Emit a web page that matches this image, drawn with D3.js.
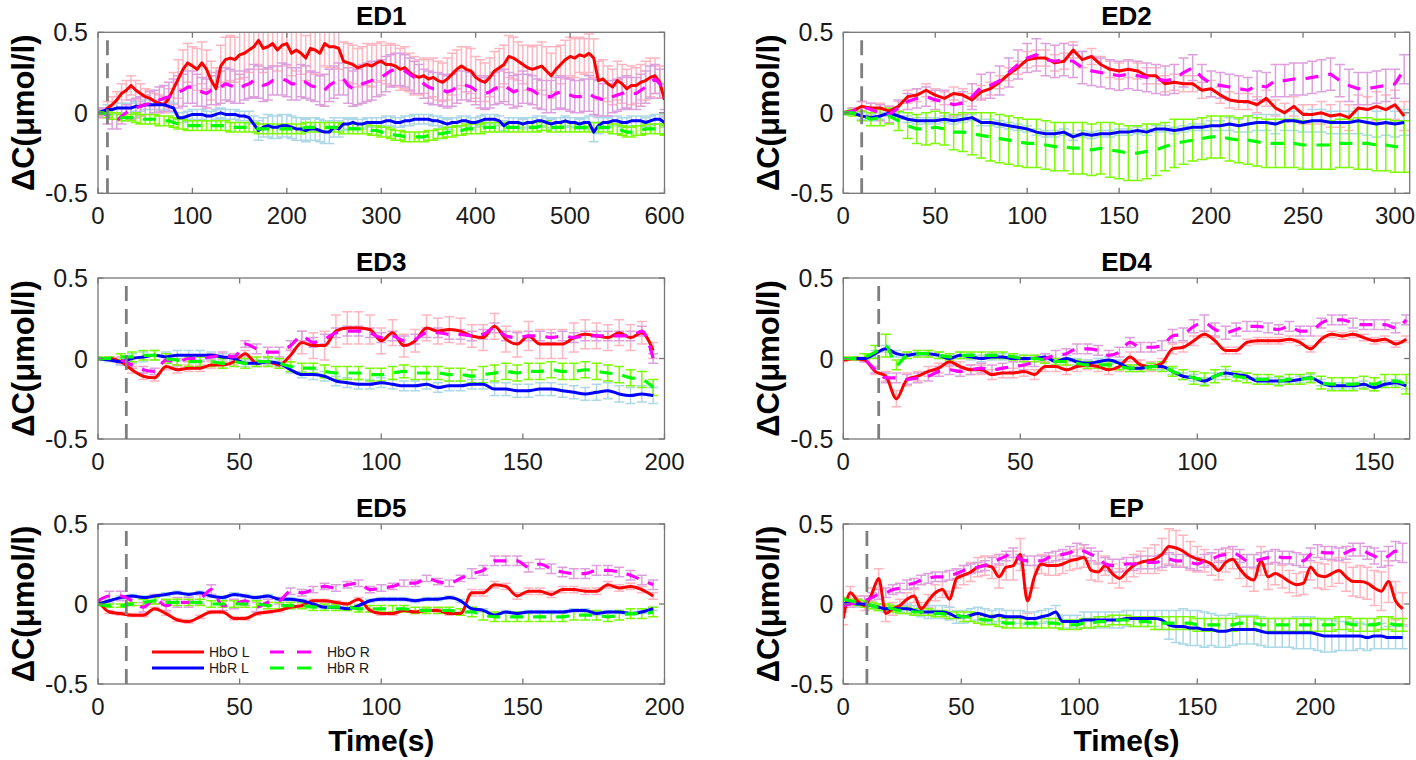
<!DOCTYPE html>
<html><head><meta charset="utf-8">
<script src="https://cdn.jsdelivr.net/npm/d3@7"></script>
<style>
body{margin:0;background:#fff}
svg{display:block}
text{font-family:"Liberation Sans",Arial,Helvetica,sans-serif}
</style>
</head><body>
<svg id="chart" width="1416" height="760"></svg>
<script>
// ---------------- DATA ----------------
const seriesNames = ["HbO L", "HbR L", "HbO R", "HbR R"];
const yTicks = [-0.5, 0, 0.5];
const onsetTime = 10;

// ED1 (t = 0..600, every 5 s)
const ed1Time = d3.range(0, 601, 5);
const ed1Ticks = [0, 100, 200, 300, 400, 500, 600];
const ed1HbOL = [0.00,0.00,0.03,0.05,0.08,0.12,0.14,0.17,0.14,0.12, 0.10,0.09,0.07,0.06,0.05,0.09,0.15,0.21,0.27,0.31,
 0.29,0.27,0.31,0.27,0.20,0.15,0.29,0.33,0.34,0.33, 0.36,0.37,0.39,0.41,0.45,0.40,0.41,0.43,0.39,0.42,
 0.43,0.37,0.39,0.37,0.34,0.40,0.39,0.37,0.43,0.41, 0.41,0.40,0.32,0.31,0.30,0.28,0.29,0.30,0.29,0.31,
 0.32,0.30,0.30,0.29,0.27,0.28,0.25,0.23,0.22,0.23, 0.21,0.22,0.20,0.19,0.21,0.24,0.27,0.29,0.27,0.26,
 0.22,0.20,0.19,0.22,0.26,0.28,0.30,0.35,0.34,0.32, 0.30,0.28,0.27,0.28,0.29,0.26,0.23,0.27,0.30,0.33,
 0.35,0.34,0.36,0.35,0.37,0.34,0.20,0.21,0.18,0.16, 0.20,0.18,0.15,0.17,0.17,0.19,0.20,0.22,0.23,0.19, 0.08];
const ed1HbRL = [0.00,0.01,0.02,0.02,0.03,0.03,0.03,0.03,0.04,0.04, 0.05,0.05,0.05,0.05,0.05,0.04,0.03,-0.03,-0.03,-0.02,
 -0.01,-0.01,-0.01,-0.02,-0.02,-0.01,0.00,-0.01,-0.01,-0.01, -0.02,-0.02,-0.03,-0.07,-0.11,-0.09,-0.08,-0.09,-0.09,-0.08,
 -0.08,-0.09,-0.10,-0.10,-0.11,-0.10,-0.10,-0.11,-0.12,-0.12, -0.09,-0.10,-0.07,-0.07,-0.06,-0.07,-0.07,-0.06,-0.06,-0.06,
 -0.06,-0.05,-0.05,-0.06,-0.06,-0.05,-0.05,-0.04,-0.04,-0.04, -0.04,-0.05,-0.05,-0.06,-0.07,-0.06,-0.06,-0.05,-0.05,-0.06,
 -0.06,-0.05,-0.04,-0.04,-0.04,-0.05,-0.08,-0.06,-0.06,-0.06, -0.07,-0.06,-0.06,-0.05,-0.05,-0.06,-0.07,-0.06,-0.06,-0.05,
 -0.06,-0.06,-0.07,-0.06,-0.06,-0.12,-0.08,-0.06,-0.06,-0.05, -0.05,-0.06,-0.06,-0.05,-0.05,-0.05,-0.06,-0.05,-0.04,-0.04, -0.06];
const ed1HbOR = [0.00,0.00,-0.02,-0.05,-0.05,-0.02,0.00,0.02,0.03,0.04, 0.05,0.06,0.07,0.08,0.09,0.10,0.12,0.13,0.14,0.16,
 0.16,0.14,0.13,0.12,0.14,0.15,0.16,0.18,0.17,0.16, 0.15,0.17,0.18,0.20,0.19,0.17,0.18,0.20,0.20,0.21,
 0.20,0.18,0.18,0.20,0.19,0.17,0.16,0.14,0.14,0.17, 0.19,0.21,0.21,0.17,0.15,0.16,0.18,0.19,0.20,0.21,
 0.22,0.24,0.26,0.27,0.27,0.26,0.24,0.22,0.21,0.18, 0.16,0.15,0.15,0.14,0.13,0.14,0.16,0.17,0.17,0.16,
 0.14,0.13,0.12,0.13,0.15,0.16,0.17,0.15,0.13,0.14, 0.16,0.15,0.14,0.12,0.11,0.10,0.10,0.12,0.13,0.12,
 0.11,0.10,0.10,0.11,0.12,0.10,0.09,0.08,0.08,0.10, 0.11,0.12,0.13,0.12,0.12,0.14,0.16,0.19,0.21,0.18, 0.10];
const ed1HbRR = [0.00,0.00,-0.01,-0.02,-0.02,-0.03,-0.03,-0.03,-0.03,-0.04, -0.04,-0.04,-0.04,-0.05,-0.05,-0.05,-0.06,-0.07,-0.07,-0.08,
 -0.08,-0.08,-0.08,-0.08,-0.08,-0.08,-0.08,-0.08,-0.09,-0.09, -0.09,-0.09,-0.09,-0.09,-0.10,-0.10,-0.10,-0.10,-0.10,-0.10,
 -0.10,-0.10,-0.10,-0.10,-0.09,-0.09,-0.09,-0.09,-0.09,-0.09, -0.09,-0.09,-0.10,-0.10,-0.10,-0.10,-0.10,-0.10,-0.11,-0.11,
 -0.12,-0.12,-0.13,-0.14,-0.14,-0.15,-0.15,-0.15,-0.15,-0.15, -0.14,-0.14,-0.13,-0.13,-0.12,-0.12,-0.11,-0.11,-0.10,-0.10,
 -0.10,-0.10,-0.09,-0.09,-0.09,-0.09,-0.09,-0.09,-0.09,-0.09, -0.09,-0.09,-0.09,-0.09,-0.08,-0.08,-0.09,-0.09,-0.09,-0.09,
 -0.09,-0.09,-0.09,-0.09,-0.09,-0.09,-0.09,-0.09,-0.09,-0.10, -0.10,-0.11,-0.12,-0.12,-0.11,-0.11,-0.10,-0.10,-0.10,-0.10, -0.11];
const ed1ErrHbOL = [0.02,0.03,0.04,0.05,0.05,0.06,0.06,0.06,0.06,0.06, 0.05,0.05,0.05,0.05,0.05,0.06,0.10,0.12,0.12,0.12,
 0.12,0.13,0.13,0.12,0.12,0.13,0.13,0.14,0.14,0.14, 0.15,0.15,0.14,0.14,0.15,0.15,0.14,0.14,0.13,0.13,
 0.14,0.14,0.13,0.13,0.14,0.15,0.15,0.14,0.14,0.13, 0.13,0.13,0.12,0.12,0.12,0.12,0.12,0.13,0.13,0.12,
 0.12,0.12,0.13,0.13,0.13,0.13,0.12,0.12,0.11,0.11, 0.12,0.12,0.12,0.12,0.13,0.13,0.12,0.12,0.14,0.14,
 0.13,0.13,0.12,0.12,0.12,0.12,0.12,0.13,0.13,0.12, 0.12,0.14,0.14,0.14,0.15,0.15,0.14,0.14,0.12,0.12,
 0.12,0.12,0.11,0.11,0.12,0.12,0.12,0.12,0.11,0.11, 0.12,0.12,0.12,0.12,0.11,0.11,0.12,0.12,0.11,0.10, 0.10];
const ed1ErrHbRL = [0.02,0.02,0.03,0.03,0.03,0.03,0.03,0.03,0.03,0.03, 0.03,0.03,0.03,0.03,0.03,0.03,0.03,0.03,0.03,0.03,
 0.03,0.03,0.03,0.03,0.03,0.03,0.03,0.03,0.03,0.03, 0.03,0.03,0.04,0.05,0.06,0.06,0.07,0.07,0.07,0.07,
 0.07,0.07,0.07,0.07,0.07,0.07,0.07,0.07,0.07,0.07, 0.06,0.05,0.04,0.03,0.03,0.03,0.03,0.03,0.03,0.03,
 0.03,0.03,0.03,0.03,0.03,0.03,0.03,0.03,0.03,0.03, 0.03,0.03,0.03,0.03,0.03,0.03,0.03,0.03,0.03,0.03,
 0.03,0.03,0.03,0.03,0.03,0.03,0.03,0.03,0.03,0.03, 0.03,0.03,0.03,0.03,0.03,0.03,0.03,0.03,0.03,0.03,
 0.03,0.03,0.03,0.03,0.04,0.06,0.05,0.04,0.03,0.03, 0.03,0.03,0.03,0.03,0.03,0.03,0.03,0.03,0.03,0.03, 0.03];
const ed1ErrHbOR = [0.02,0.03,0.05,0.05,0.05,0.05,0.05,0.06,0.06,0.06, 0.06,0.07,0.07,0.08,0.08,0.09,0.09,0.10,0.10,0.10,
 0.10,0.10,0.09,0.09,0.09,0.10,0.10,0.10,0.10,0.10, 0.09,0.09,0.09,0.10,0.10,0.10,0.10,0.09,0.09,0.10,
 0.10,0.10,0.10,0.10,0.10,0.09,0.09,0.09,0.10,0.10, 0.10,0.10,0.10,0.11,0.11,0.11,0.12,0.12,0.12,0.11,
 0.11,0.11,0.10,0.10,0.10,0.10,0.10,0.10,0.09,0.09, 0.10,0.10,0.10,0.10,0.10,0.10,0.10,0.09,0.09,0.09,
 0.09,0.10,0.10,0.10,0.10,0.10,0.10,0.10,0.10,0.10, 0.10,0.09,0.09,0.09,0.09,0.10,0.10,0.10,0.10,0.10,
 0.10,0.10,0.10,0.10,0.11,0.11,0.11,0.10,0.10,0.10, 0.10,0.10,0.10,0.10,0.10,0.10,0.10,0.10,0.09,0.09, 0.08];
const ed1ErrHbRR = [0.01,0.01,0.02,0.02,0.02,0.02,0.02,0.02,0.03,0.03, 0.03,0.03,0.03,0.03,0.03,0.03,0.03,0.03,0.03,0.03,
 0.03,0.03,0.03,0.03,0.03,0.03,0.03,0.03,0.03,0.03, 0.03,0.03,0.03,0.03,0.03,0.03,0.03,0.03,0.03,0.03,
 0.03,0.03,0.03,0.03,0.03,0.03,0.03,0.03,0.03,0.03, 0.03,0.03,0.03,0.03,0.03,0.03,0.03,0.03,0.03,0.03,
 0.03,0.03,0.03,0.03,0.03,0.03,0.03,0.03,0.03,0.03, 0.03,0.03,0.03,0.03,0.03,0.03,0.03,0.03,0.03,0.03,
 0.03,0.03,0.03,0.03,0.03,0.03,0.03,0.03,0.03,0.03, 0.03,0.03,0.03,0.03,0.03,0.03,0.03,0.03,0.03,0.03,
 0.03,0.03,0.03,0.03,0.03,0.03,0.03,0.03,0.03,0.03, 0.03,0.03,0.03,0.03,0.03,0.03,0.03,0.03,0.03,0.03, 0.03];

// ED2 (t = 0..305, every 5 s)
const ed2Time = d3.range(0, 306, 5);
const ed2Ticks = [0, 50, 100, 150, 200, 250, 300];
const ed2HbOL = [0.00,0.01,0.04,0.03,0.03,0.01,0.04,0.10,0.11,0.14, 0.11,0.09,0.12,0.11,0.08,0.13,0.15,0.19,0.24,0.28, 0.33,0.34,0.34,0.31,0.32,0.39,0.33,0.35,0.30,0.27, 0.26,0.27,0.26,0.23,0.23,0.18,0.19,0.18,0.18,0.14, 0.15,0.11,0.08,0.07,0.07,0.05,0.09,0.03,0.00,0.04, -0.01,-0.01,0.00,-0.02,-0.01,-0.03,0.03,0.02,0.04,0.02, 0.05,-0.02];
const ed2HbRL = [0.00,0.00,-0.02,-0.03,-0.02,0.00,-0.02,-0.04,-0.05,-0.05, -0.05,-0.04,-0.05,-0.04,-0.03,-0.06,-0.06,-0.07,-0.08,-0.09, -0.10,-0.12,-0.13,-0.13,-0.12,-0.15,-0.13,-0.14,-0.13,-0.13, -0.12,-0.12,-0.11,-0.12,-0.10,-0.10,-0.11,-0.10,-0.09,-0.09, -0.08,-0.08,-0.07,-0.08,-0.07,-0.06,-0.06,-0.07,-0.05,-0.05, -0.06,-0.05,-0.05,-0.06,-0.06,-0.06,-0.05,-0.06,-0.07,-0.06, -0.07,-0.06];
const ed2HbOR = [0.00,0.01,0.04,0.02,0.00,-0.01,0.03,0.07,0.09,0.10, 0.08,0.07,0.05,0.06,0.10,0.16,0.17,0.20,0.25,0.30, 0.34,0.36,0.33,0.32,0.33,0.32,0.28,0.26,0.25,0.24, 0.23,0.24,0.23,0.22,0.21,0.20,0.21,0.25,0.28,0.22, 0.18,0.17,0.16,0.15,0.14,0.17,0.16,0.20,0.20,0.21, 0.21,0.22,0.23,0.24,0.20,0.17,0.15,0.15,0.16,0.17, 0.18,0.27];
const ed2HbRR = [0.00,0.00,-0.02,-0.04,-0.03,-0.02,-0.05,-0.08,-0.10,-0.10, -0.09,-0.10,-0.12,-0.12,-0.13,-0.14,-0.15,-0.16,-0.17,-0.18, -0.19,-0.19,-0.20,-0.21,-0.21,-0.22,-0.22,-0.23,-0.22,-0.23, -0.24,-0.25,-0.25,-0.24,-0.23,-0.21,-0.19,-0.18,-0.17,-0.16, -0.15,-0.15,-0.16,-0.17,-0.17,-0.18,-0.19,-0.19,-0.19,-0.19, -0.20,-0.20,-0.20,-0.20,-0.19,-0.19,-0.19,-0.19,-0.20,-0.20, -0.21,-0.21];
const ed2ErrHbOL = [0.01,0.02,0.03,0.03,0.03,0.03,0.03,0.04,0.04,0.04, 0.04,0.04,0.04,0.04,0.04,0.04,0.04,0.04,0.04,0.04, 0.05,0.05,0.05,0.05,0.05,0.05,0.05,0.05,0.05,0.05, 0.05,0.05,0.05,0.05,0.05,0.05,0.05,0.05,0.05,0.05, 0.05,0.05,0.05,0.05,0.05,0.05,0.05,0.05,0.06,0.06, 0.06,0.06,0.07,0.07,0.08,0.08,0.08,0.08,0.09,0.09, 0.09,0.09];
const ed2ErrHbRL = [0.01,0.01,0.02,0.02,0.02,0.02,0.02,0.02,0.02,0.02, 0.02,0.02,0.02,0.02,0.02,0.02,0.02,0.02,0.02,0.02, 0.02,0.02,0.02,0.02,0.02,0.02,0.02,0.02,0.02,0.02, 0.02,0.02,0.02,0.02,0.02,0.02,0.02,0.02,0.02,0.02, 0.03,0.03,0.04,0.04,0.05,0.05,0.05,0.06,0.06,0.06, 0.06,0.07,0.07,0.07,0.07,0.07,0.08,0.08,0.08,0.08, 0.08,0.08];
const ed2ErrHbOR = [0.01,0.02,0.03,0.04,0.05,0.05,0.05,0.05,0.06,0.06, 0.06,0.07,0.07,0.07,0.08,0.08,0.08,0.09,0.09,0.09, 0.09,0.10,0.10,0.10,0.10,0.10,0.10,0.09,0.09,0.09, 0.09,0.09,0.09,0.09,0.09,0.09,0.09,0.09,0.08,0.08, 0.08,0.08,0.08,0.08,0.08,0.09,0.09,0.10,0.10,0.10, 0.10,0.10,0.10,0.10,0.10,0.10,0.10,0.10,0.10,0.10, 0.09,0.09];
const ed2ErrHbRR = [0.01,0.02,0.03,0.04,0.05,0.05,0.06,0.08,0.09,0.10, 0.10,0.10,0.11,0.12,0.13,0.14,0.15,0.15,0.15,0.15, 0.15,0.15,0.15,0.15,0.15,0.16,0.16,0.16,0.16,0.17, 0.17,0.17,0.17,0.17,0.16,0.15,0.15,0.14,0.13,0.13, 0.13,0.13,0.14,0.14,0.15,0.15,0.15,0.15,0.15,0.15, 0.15,0.15,0.15,0.15,0.15,0.15,0.16,0.16,0.16,0.16, 0.16,0.16];

// ED3 (t = 0..196, every 4 s)
const ed3Time = d3.range(0, 197, 4);
const ed3Ticks = [0, 50, 100, 150, 200];
const ed3HbOL = [0.00,0.00,-0.02,-0.07,-0.11,-0.12,-0.05,-0.07,-0.06,-0.06, -0.04,-0.04,-0.02,0.03,-0.03,-0.02,-0.04,0.02,0.10,0.08, 0.08,0.17,0.19,0.19,0.18,0.11,0.16,0.08,0.11,0.19, 0.17,0.18,0.17,0.14,0.13,0.20,0.12,0.09,0.14,0.09, 0.09,0.09,0.13,0.15,0.14,0.13,0.16,0.13,0.16,0.05];
const ed3HbRL = [0.00,-0.01,-0.02,0.00,0.01,0.02,0.01,0.02,0.02,0.02, 0.02,0.01,0.00,-0.03,-0.03,-0.02,-0.03,-0.07,-0.10,-0.10, -0.11,-0.14,-0.15,-0.16,-0.16,-0.15,-0.16,-0.17,-0.17,-0.16, -0.18,-0.17,-0.17,-0.16,-0.16,-0.19,-0.19,-0.20,-0.20,-0.19, -0.19,-0.20,-0.21,-0.22,-0.21,-0.20,-0.22,-0.23,-0.22,-0.23];
const ed3HbOR = [0.00,0.00,-0.01,-0.04,-0.07,-0.08,-0.01,-0.02,0.00,0.00, 0.01,0.02,0.01,0.09,0.06,0.04,0.04,0.08,0.14,0.10, 0.12,0.16,0.17,0.17,0.16,0.13,0.14,0.11,0.12,0.16, 0.16,0.15,0.15,0.14,0.15,0.19,0.14,0.13,0.14,0.14, 0.13,0.14,0.13,0.14,0.14,0.14,0.14,0.14,0.17,0.00];
const ed3HbRR = [0.00,0.00,0.01,0.01,0.02,0.02,0.00,-0.01,-0.02,-0.02, -0.02,-0.03,-0.02,-0.03,-0.02,-0.02,-0.03,-0.05,-0.06,-0.06, -0.08,-0.09,-0.09,-0.09,-0.10,-0.10,-0.09,-0.08,-0.09,-0.09, -0.09,-0.10,-0.10,-0.11,-0.10,-0.09,-0.08,-0.09,-0.08,-0.08, -0.07,-0.08,-0.08,-0.07,-0.08,-0.09,-0.10,-0.12,-0.13,-0.18];
const ed3ErrHbOL = [0.01,0.01,0.02,0.02,0.02,0.02,0.02,0.02,0.02,0.02, 0.02,0.02,0.02,0.02,0.02,0.02,0.02,0.04,0.07,0.08, 0.09,0.10,0.10,0.10,0.09,0.08,0.08,0.07,0.07,0.08, 0.08,0.08,0.08,0.07,0.08,0.08,0.08,0.08,0.09,0.09, 0.09,0.09,0.09,0.09,0.08,0.08,0.08,0.08,0.07,0.05];
const ed3ErrHbRL = [0.01,0.01,0.02,0.03,0.03,0.03,0.03,0.03,0.03,0.03, 0.02,0.02,0.02,0.02,0.02,0.02,0.02,0.02,0.02,0.03, 0.03,0.03,0.03,0.03,0.03,0.03,0.03,0.03,0.03,0.03, 0.03,0.03,0.03,0.03,0.03,0.04,0.04,0.04,0.04,0.04, 0.04,0.04,0.04,0.04,0.05,0.05,0.05,0.05,0.05,0.05];
const ed3ErrHbOR = [0.01,0.01,0.02,0.02,0.02,0.02,0.02,0.02,0.02,0.02, 0.02,0.02,0.02,0.02,0.03,0.03,0.03,0.03,0.03,0.03, 0.03,0.03,0.03,0.03,0.03,0.03,0.03,0.03,0.03,0.03, 0.03,0.03,0.03,0.03,0.03,0.03,0.03,0.03,0.03,0.03, 0.03,0.03,0.03,0.03,0.03,0.03,0.03,0.03,0.03,0.03];
const ed3ErrHbRR = [0.01,0.01,0.02,0.03,0.03,0.03,0.03,0.03,0.03,0.03, 0.03,0.03,0.03,0.03,0.03,0.03,0.03,0.03,0.03,0.03, 0.04,0.04,0.04,0.04,0.04,0.04,0.04,0.04,0.04,0.04, 0.04,0.04,0.04,0.04,0.05,0.05,0.05,0.05,0.05,0.05, 0.05,0.05,0.05,0.05,0.05,0.05,0.05,0.05,0.05,0.05];

// ED4 (t = 0..159, every 3 s)
const ed4Time = d3.range(0, 160, 3);
const ed4Ticks = [0, 50, 100, 150];
const ed4HbOL = [-0.01,0.00,-0.01,-0.08,-0.11,-0.25,-0.13,-0.11,-0.08,-0.06, -0.02,-0.05,-0.07,-0.07,-0.10,-0.09,-0.09,-0.08,-0.10,-0.05, -0.05,-0.07,-0.05,-0.04,-0.05,-0.07,-0.05,0.01,-0.04,-0.05, -0.03,0.06,0.07,0.11,0.15,0.11,0.05,0.05,0.10,0.11, 0.11,0.11,0.12,0.10,0.06,0.12,0.15,0.14,0.15,0.13, 0.11,0.12,0.09,0.12];
const ed4HbRL = [0.00,0.00,0.00,0.03,0.06,0.03,0.02,0.03,0.03,0.02, 0.00,0.02,0.01,0.00,0.01,0.01,0.00,0.00,0.00,0.01, -0.02,0.00,-0.02,-0.03,-0.02,-0.01,-0.03,-0.06,-0.06,-0.05, -0.05,-0.08,-0.11,-0.12,-0.14,-0.11,-0.09,-0.10,-0.11,-0.14, -0.14,-0.14,-0.14,-0.13,-0.12,-0.15,-0.17,-0.17,-0.17,-0.16, -0.18,-0.16,-0.15,-0.17];
const ed4HbOR = [0.00,0.00,-0.01,-0.07,-0.12,-0.12,-0.13,-0.12,-0.11,-0.08, -0.07,-0.08,-0.07,-0.06,-0.07,-0.06,-0.05,-0.04,-0.02,0.00, 0.02,0.03,0.06,0.06,0.05,0.02,0.04,0.10,0.07,0.07, 0.08,0.14,0.15,0.20,0.22,0.18,0.16,0.18,0.20,0.20, 0.19,0.18,0.20,0.17,0.17,0.22,0.24,0.24,0.22,0.21, 0.21,0.21,0.19,0.24];
const ed4HbRR = [0.00,0.00,0.01,0.04,0.08,-0.04,0.02,0.03,0.03,0.02, 0.01,0.02,0.02,0.02,0.02,0.02,0.01,0.00,0.00,-0.01, -0.02,-0.02,-0.03,-0.04,-0.04,-0.04,-0.05,-0.06,-0.06,-0.05, -0.05,-0.08,-0.10,-0.12,-0.13,-0.11,-0.09,-0.11,-0.12,-0.13, -0.13,-0.14,-0.13,-0.13,-0.12,-0.15,-0.16,-0.16,-0.16,-0.15, -0.16,-0.14,-0.14,-0.16];
const ed4ErrHbOL = [0.01,0.01,0.01,0.02,0.03,0.05,0.04,0.03,0.03,0.03, 0.03,0.03,0.03,0.03,0.03,0.03,0.03,0.03,0.03,0.03, 0.03,0.03,0.03,0.03,0.03,0.03,0.03,0.03,0.03,0.03, 0.03,0.03,0.03,0.03,0.02,0.02,0.02,0.02,0.02,0.02, 0.02,0.02,0.02,0.02,0.02,0.02,0.02,0.02,0.02,0.02, 0.02,0.02,0.02,0.02];
const ed4ErrHbRL = [0.01,0.01,0.01,0.02,0.02,0.02,0.02,0.02,0.02,0.02, 0.02,0.02,0.02,0.02,0.02,0.02,0.02,0.02,0.02,0.02, 0.02,0.02,0.02,0.02,0.02,0.02,0.02,0.02,0.02,0.02, 0.02,0.02,0.02,0.02,0.02,0.02,0.02,0.02,0.02,0.02, 0.02,0.02,0.02,0.02,0.02,0.02,0.02,0.02,0.02,0.02, 0.02,0.02,0.02,0.02];
const ed4ErrHbOR = [0.01,0.01,0.01,0.02,0.03,0.03,0.03,0.03,0.03,0.03, 0.03,0.03,0.03,0.03,0.03,0.03,0.03,0.03,0.03,0.03, 0.03,0.03,0.03,0.03,0.03,0.03,0.03,0.03,0.03,0.03, 0.03,0.04,0.04,0.04,0.05,0.04,0.04,0.04,0.03,0.03, 0.03,0.03,0.03,0.03,0.03,0.03,0.03,0.03,0.03,0.03, 0.03,0.03,0.03,0.03];
const ed4ErrHbRR = [0.01,0.01,0.02,0.04,0.07,0.03,0.02,0.02,0.02,0.02, 0.02,0.02,0.02,0.02,0.02,0.02,0.02,0.02,0.02,0.02, 0.02,0.02,0.02,0.02,0.02,0.02,0.02,0.02,0.02,0.02, 0.03,0.03,0.03,0.04,0.04,0.04,0.04,0.03,0.03,0.03, 0.03,0.03,0.03,0.03,0.03,0.04,0.04,0.04,0.04,0.04, 0.04,0.04,0.04,0.06];

// ED5 (t = 0..196, every 4 s)
const ed5Time = d3.range(0, 197, 4);
const ed5Ticks = [0, 50, 100, 150, 200];
const ed5HbOL = [0.02,-0.05,-0.06,-0.07,-0.07,-0.03,-0.06,-0.10,-0.11,-0.08, -0.05,-0.05,-0.09,-0.09,-0.06,-0.05,-0.04,-0.02,-0.01,0.02, 0.02,0.01,0.00,0.03,-0.04,-0.06,-0.06,-0.04,-0.05,-0.04, -0.04,-0.06,-0.06,0.07,0.07,0.12,0.11,0.05,0.08,0.08, 0.06,0.09,0.09,0.08,0.08,0.12,0.10,0.11,0.09,0.05];
const ed5HbRL = [0.00,0.02,0.04,0.05,0.04,0.05,0.06,0.07,0.06,0.07, 0.05,0.04,0.06,0.05,0.04,0.05,0.03,0.03,0.02,0.00, -0.02,-0.02,-0.03,-0.01,0.02,0.03,0.03,0.03,0.02,0.03, 0.03,0.04,0.02,-0.03,-0.04,-0.07,-0.05,-0.06,-0.05,-0.05, -0.05,-0.05,-0.04,-0.04,-0.06,-0.05,-0.05,-0.06,-0.05,-0.03];
const ed5HbOR = [0.02,0.05,0.05,0.02,-0.02,0.03,-0.01,0.01,0.01,0.03, 0.09,-0.01,0.00,0.02,-0.02,0.01,0.02,0.08,0.07,0.09, 0.11,0.10,0.12,0.13,0.09,0.10,0.11,0.13,0.13,0.16, 0.14,0.13,0.16,0.19,0.21,0.27,0.27,0.27,0.23,0.25, 0.22,0.20,0.19,0.19,0.21,0.21,0.20,0.18,0.15,0.12];
const ed5HbRR = [0.00,-0.01,-0.01,0.00,0.01,0.02,0.01,0.01,0.01,0.01, 0.00,0.00,0.00,0.00,0.00,-0.01,-0.01,-0.01,-0.01,-0.02, -0.02,-0.02,-0.02,-0.03,-0.03,-0.03,-0.03,-0.03,-0.04,-0.04, -0.04,-0.04,-0.05,-0.05,-0.07,-0.08,-0.08,-0.08,-0.08,-0.08, -0.08,-0.08,-0.07,-0.07,-0.07,-0.08,-0.07,-0.06,-0.06,-0.05];
const ed5ErrHbOL = [0.01,0.01,0.01,0.01,0.01,0.01,0.01,0.01,0.01,0.01, 0.01,0.01,0.01,0.01,0.01,0.01,0.01,0.01,0.01,0.01, 0.01,0.01,0.01,0.01,0.01,0.01,0.01,0.01,0.01,0.01, 0.01,0.01,0.01,0.02,0.02,0.02,0.02,0.02,0.02,0.02, 0.02,0.02,0.02,0.02,0.02,0.02,0.02,0.02,0.02,0.02];
const ed5ErrHbRL = [0.01,0.01,0.01,0.01,0.01,0.01,0.01,0.01,0.01,0.01, 0.01,0.01,0.01,0.01,0.01,0.01,0.01,0.01,0.01,0.01, 0.01,0.01,0.01,0.01,0.01,0.01,0.01,0.01,0.01,0.01, 0.01,0.01,0.01,0.01,0.01,0.01,0.01,0.01,0.01,0.01, 0.01,0.01,0.01,0.01,0.01,0.01,0.01,0.01,0.01,0.01];
const ed5ErrHbOR = [0.01,0.03,0.03,0.03,0.03,0.03,0.03,0.03,0.03,0.03, 0.03,0.03,0.03,0.03,0.03,0.02,0.02,0.02,0.02,0.02, 0.02,0.02,0.02,0.02,0.02,0.02,0.02,0.02,0.02,0.02, 0.02,0.02,0.02,0.03,0.03,0.03,0.03,0.03,0.03,0.03, 0.03,0.03,0.03,0.03,0.03,0.03,0.03,0.03,0.03,0.03];
const ed5ErrHbRR = [0.01,0.01,0.01,0.01,0.02,0.02,0.02,0.02,0.02,0.02, 0.02,0.02,0.02,0.02,0.02,0.02,0.02,0.02,0.02,0.02, 0.02,0.02,0.02,0.02,0.02,0.02,0.02,0.02,0.02,0.02, 0.02,0.02,0.02,0.03,0.03,0.03,0.03,0.03,0.03,0.03, 0.03,0.03,0.03,0.03,0.03,0.03,0.03,0.03,0.03,0.03];

// EP (t = 0..237, every 3 s)
const epTime = d3.range(0, 238, 3);
const epTicks = [0, 50, 100, 150, 200];
const epHbOL = [-0.09,0.07,0.02,-0.01,0.06,0.16,-0.06,-0.03,-0.01,0.03, 0.05,-0.03,0.02,0.07,0.09,0.03,0.16,0.18,0.20,0.23, 0.24,0.23,0.17,0.23,0.24,0.31,0.02,0.17,0.25,0.24, 0.24,0.25,0.27,0.28,0.29,0.21,0.20,0.24,0.19,0.16, 0.20,0.24,0.26,0.27,0.28,0.31,0.36,0.35,0.33,0.30, 0.28,0.27,0.25,0.21,0.26,0.28,0.22,0.17,0.15,0.27, 0.17,0.19,0.17,0.14,0.12,0.13,0.23,0.18,0.17,0.19, 0.21,0.17,0.14,0.14,0.13,0.10,0.08,0.14,0.02,-0.03];
const epHbRL = [0.00,0.01,0.00,0.00,-0.01,-0.02,-0.03,-0.03,-0.03,-0.03, -0.04,-0.05,-0.05,-0.05,-0.05,-0.06,-0.08,-0.08,-0.07,-0.06, -0.07,-0.08,-0.07,-0.08,-0.08,-0.08,-0.09,-0.09,-0.08,-0.07, -0.05,-0.11,-0.11,-0.11,-0.10,-0.10,-0.10,-0.10,-0.10,-0.10, -0.09,-0.09,-0.09,-0.09,-0.09,-0.10,-0.13,-0.14,-0.14,-0.15, -0.15,-0.16,-0.16,-0.17,-0.17,-0.16,-0.16,-0.16,-0.16,-0.17, -0.18,-0.18,-0.18,-0.18,-0.18,-0.18,-0.18,-0.19,-0.20,-0.20, -0.20,-0.20,-0.20,-0.20,-0.21,-0.20,-0.20,-0.21,-0.21,-0.21];
const epHbOR = [-0.01,0.00,0.01,0.02,0.04,0.06,0.07,0.09,0.10,0.12, 0.13,0.15,0.16,0.17,0.17,0.18,0.19,0.21,0.22,0.23, 0.24,0.26,0.28,0.30,0.32,0.28,0.27,0.27,0.27,0.29, 0.30,0.31,0.32,0.34,0.33,0.31,0.29,0.25,0.24,0.24, 0.25,0.25,0.26,0.26,0.26,0.27,0.28,0.27,0.27,0.26, 0.25,0.27,0.28,0.30,0.31,0.32,0.30,0.27,0.27,0.28, 0.29,0.30,0.29,0.29,0.28,0.27,0.31,0.33,0.32,0.32, 0.31,0.32,0.34,0.34,0.32,0.30,0.28,0.30,0.33,0.32];
const epHbRR = [0.03,0.02,0.01,0.00,-0.01,-0.02,-0.02,-0.03,-0.04,-0.04, -0.05,-0.05,-0.05,-0.06,-0.06,-0.07,-0.07,-0.08,-0.08,-0.09, -0.10,-0.10,-0.11,-0.12,-0.12,-0.12,-0.12,-0.12,-0.12,-0.12, -0.12,-0.13,-0.13,-0.13,-0.12,-0.12,-0.11,-0.11,-0.10,-0.10, -0.10,-0.11,-0.11,-0.11,-0.12,-0.12,-0.12,-0.12,-0.12,-0.12, -0.13,-0.13,-0.13,-0.13,-0.13,-0.13,-0.12,-0.12,-0.12,-0.13, -0.13,-0.13,-0.13,-0.13,-0.13,-0.13,-0.13,-0.13,-0.13,-0.13, -0.12,-0.12,-0.13,-0.13,-0.13,-0.13,-0.12,-0.12,-0.13,-0.13];
const epErrHbOL = [0.04,0.04,0.03,0.03,0.04,0.06,0.05,0.04,0.04,0.04, 0.04,0.04,0.04,0.05,0.05,0.05,0.06,0.06,0.06,0.06, 0.06,0.07,0.07,0.08,0.09,0.10,0.08,0.07,0.06,0.06, 0.06,0.06,0.06,0.06,0.06,0.06,0.06,0.06,0.06,0.06, 0.06,0.07,0.07,0.08,0.09,0.10,0.11,0.11,0.10,0.09, 0.08,0.07,0.07,0.06,0.06,0.06,0.06,0.06,0.07,0.09, 0.08,0.07,0.07,0.07,0.07,0.07,0.08,0.08,0.08,0.08, 0.08,0.09,0.09,0.10,0.10,0.11,0.12,0.13,0.12,0.10];
const epErrHbRL = [0.01,0.01,0.02,0.02,0.02,0.02,0.02,0.02,0.02,0.03, 0.03,0.03,0.04,0.04,0.04,0.04,0.04,0.04,0.04,0.04, 0.04,0.04,0.04,0.04,0.04,0.04,0.04,0.04,0.04,0.04, 0.04,0.04,0.04,0.04,0.05,0.05,0.05,0.05,0.05,0.05, 0.05,0.05,0.05,0.05,0.05,0.06,0.09,0.10,0.11,0.11, 0.11,0.11,0.10,0.10,0.10,0.10,0.09,0.09,0.09,0.09, 0.09,0.09,0.09,0.09,0.10,0.10,0.10,0.10,0.10,0.10, 0.09,0.09,0.09,0.08,0.08,0.08,0.08,0.07,0.07,0.07];
const epErrHbOR = [0.01,0.02,0.02,0.03,0.03,0.03,0.03,0.03,0.03,0.03, 0.03,0.03,0.03,0.03,0.03,0.03,0.03,0.03,0.03,0.03, 0.03,0.03,0.03,0.03,0.03,0.03,0.03,0.03,0.03,0.03, 0.03,0.03,0.04,0.04,0.04,0.04,0.04,0.04,0.04,0.04, 0.04,0.04,0.04,0.04,0.04,0.04,0.04,0.04,0.04,0.04, 0.04,0.04,0.04,0.04,0.04,0.04,0.04,0.04,0.04,0.04, 0.04,0.04,0.04,0.04,0.04,0.04,0.04,0.04,0.04,0.04, 0.04,0.04,0.04,0.04,0.04,0.05,0.05,0.06,0.06,0.06];
const epErrHbRR = [0.01,0.01,0.02,0.02,0.02,0.02,0.02,0.02,0.02,0.02, 0.02,0.02,0.02,0.02,0.02,0.02,0.02,0.03,0.03,0.03, 0.03,0.03,0.03,0.03,0.03,0.03,0.03,0.03,0.03,0.03, 0.03,0.03,0.03,0.03,0.03,0.03,0.03,0.03,0.03,0.03, 0.03,0.03,0.03,0.03,0.04,0.04,0.04,0.04,0.04,0.04, 0.04,0.04,0.04,0.04,0.04,0.04,0.04,0.04,0.04,0.04, 0.04,0.04,0.04,0.04,0.04,0.04,0.04,0.04,0.04,0.04, 0.04,0.04,0.04,0.04,0.04,0.04,0.04,0.04,0.04,0.04];

// ---------------- STYLE / LAYOUT ----------------
const lineColors = ["#ff0000", "#0000ff", "#ff00ff", "#00ff00"];
const errColors  = ["#ffb6c1", "#add8e6", "#dda0dd", "#7cfc00"];
const dashedSeries = [false, false, true, true];
const cols = [{x0: 98, x1: 664.5}, {x0: 843.3, x1: 1409.7}];
const rows = [{y0: 32.3, y1: 193.3}, {y0: 278, y1: 439}, {y0: 524, y1: 684}];
const axisColor = "#777";
const textColor = "#1a1a1a";

const panels = [
  {title: "ED1", col: 0, row: 0, xMax: 600, t: ed1Time, ticks: ed1Ticks, curve: d3.curveLinear,
   vals: [ed1HbOL, ed1HbRL, ed1HbOR, ed1HbRR], errs: [ed1ErrHbOL, ed1ErrHbRL, ed1ErrHbOR, ed1ErrHbRR]},
  {title: "ED2", col: 1, row: 0, xMax: 308, t: ed2Time, ticks: ed2Ticks, curve: d3.curveLinear,
   vals: [ed2HbOL, ed2HbRL, ed2HbOR, ed2HbRR], errs: [ed2ErrHbOL, ed2ErrHbRL, ed2ErrHbOR, ed2ErrHbRR]},
  {title: "ED3", col: 0, row: 1, xMax: 200, t: ed3Time, ticks: ed3Ticks, curve: d3.curveMonotoneX,
   vals: [ed3HbOL, ed3HbRL, ed3HbOR, ed3HbRR], errs: [ed3ErrHbOL, ed3ErrHbRL, ed3ErrHbOR, ed3ErrHbRR]},
  {title: "ED4", col: 1, row: 1, xMax: 160, t: ed4Time, ticks: ed4Ticks, curve: d3.curveMonotoneX,
   vals: [ed4HbOL, ed4HbRL, ed4HbOR, ed4HbRR], errs: [ed4ErrHbOL, ed4ErrHbRL, ed4ErrHbOR, ed4ErrHbRR]},
  {title: "ED5", col: 0, row: 2, xMax: 200, t: ed5Time, ticks: ed5Ticks, curve: d3.curveMonotoneX, legend: true, xlabel: true,
   vals: [ed5HbOL, ed5HbRL, ed5HbOR, ed5HbRR], errs: [ed5ErrHbOL, ed5ErrHbRL, ed5ErrHbOR, ed5ErrHbRR]},
  {title: "EP", col: 1, row: 2, xMax: 240, t: epTime, ticks: epTicks, curve: d3.curveMonotoneX, xlabel: true,
   vals: [epHbOL, epHbRL, epHbOR, epHbRR], errs: [epErrHbOL, epErrHbRL, epErrHbOR, epErrHbRR]}
];

const svg = d3.select("#chart");
svg.append("rect").attr("width", 1416).attr("height", 760).attr("fill", "#fff");
const defs = svg.append("defs");

panels.forEach((p, pi) => {
  const c = cols[p.col], r = rows[p.row];
  const x = d3.scaleLinear().domain([0, p.xMax]).range([c.x0, c.x1]);
  const y = d3.scaleLinear().domain([-0.5, 0.5]).range([r.y1, r.y0]);
  const g = svg.append("g");

  defs.append("clipPath").attr("id", "clip" + pi).append("rect")
    .attr("x", c.x0).attr("y", r.y0).attr("width", c.x1 - c.x0).attr("height", r.y1 - r.y0);
  const plot = g.append("g").attr("clip-path", `url(#clip${pi})`);

  // error bars (all series first)
  const capW = 5;
  p.vals.forEach((vals, si) => {
    const errs = p.errs[si];
    const n = Math.min(vals.length, p.t.length);
    let d = "";
    for (let i = 0; i < n; i++) {
      const e = errs[i] ?? 0;
      const xx = x(p.t[i]);
      const ya = y(vals[i] - e), yb = y(vals[i] + e);
      d += `M${xx},${ya}L${xx},${yb}M${xx - capW},${ya}L${xx + capW},${ya}M${xx - capW},${yb}L${xx + capW},${yb}`;
    }
    plot.append("path").attr("d", d).attr("fill", "none")
      .attr("stroke", errColors[si]).attr("stroke-width", 1.5);
  });

  // mean lines
  p.vals.forEach((vals, si) => {
    const n = Math.min(vals.length, p.t.length);
    const line = d3.line().x((d, i) => x(p.t[i])).y(d => y(d)).curve(p.curve);
    plot.append("path").datum(vals.slice(0, n)).attr("d", line)
      .attr("fill", "none").attr("stroke", lineColors[si])
      .attr("stroke-width", dashedSeries[si] ? 3.2 : 3)
      .attr("stroke-linejoin", "round")
      .attr("stroke-dasharray", dashedSeries[si] ? "13,10" : null);
  });

  // stimulus onset marker
  plot.append("line")
    .attr("x1", x(onsetTime)).attr("x2", x(onsetTime))
    .attr("y1", y(-0.5)).attr("y2", y(0.5))
    .attr("stroke", "#7f7f7f").attr("stroke-width", 2.8).attr("stroke-dasharray", "15,8");

  // box
  g.append("rect").attr("x", c.x0).attr("y", r.y0)
    .attr("width", c.x1 - c.x0).attr("height", r.y1 - r.y0)
    .attr("fill", "none").attr("stroke", axisColor).attr("stroke-width", 1.3);

  // ticks inward on all four sides
  const tl = 5.5;
  p.ticks.forEach(tv => {
    const xx = x(tv);
    g.append("line").attr("x1", xx).attr("x2", xx).attr("y1", r.y1).attr("y2", r.y1 - tl)
      .attr("stroke", axisColor).attr("stroke-width", 1.3);
    g.append("line").attr("x1", xx).attr("x2", xx).attr("y1", r.y0).attr("y2", r.y0 + tl)
      .attr("stroke", axisColor).attr("stroke-width", 1.3);
    g.append("text").attr("x", xx).attr("y", r.y1 + 31)
      .attr("text-anchor", "middle").attr("font-size", 24).attr("fill", textColor)
      .text(d3.format("d")(tv));
  });
  yTicks.forEach(tv => {
    const yy = y(tv);
    g.append("line").attr("x1", c.x0).attr("x2", c.x0 + tl).attr("y1", yy).attr("y2", yy)
      .attr("stroke", axisColor).attr("stroke-width", 1.3);
    g.append("line").attr("x1", c.x1).attr("x2", c.x1 - tl).attr("y1", yy).attr("y2", yy)
      .attr("stroke", axisColor).attr("stroke-width", 1.3);
    g.append("text").attr("x", c.x0 - 10).attr("y", yy).attr("dy", "0.36em")
      .attr("text-anchor", "end").attr("font-size", 25).attr("fill", textColor)
      .text(tv === 0 ? "0" : d3.format(".1f")(tv).replace("−", "-"));
  });

  // title
  g.append("text").attr("x", (c.x0 + c.x1) / 2).attr("y", r.y0 - 7)
    .attr("text-anchor", "middle").attr("font-size", 26).attr("font-weight", "bold")
    .attr("fill", "#000").text(p.title);

  // y label
  const lx = c.x0 - 64, ly = (r.y0 + r.y1) / 2;
  g.append("text").attr("transform", `translate(${lx},${ly}) rotate(-90)`)
    .attr("text-anchor", "middle").attr("font-size", 31).attr("font-weight", "bold")
    .attr("fill", "#000").text("ΔC(μmol/l)");

  // x label
  if (p.xlabel) {
    g.append("text").attr("x", (c.x0 + c.x1) / 2).attr("y", r.y1 + 67)
      .attr("text-anchor", "middle").attr("font-size", 30).attr("font-weight", "bold")
      .attr("fill", "#000").text("Time(s)");
  }

  // legend
  if (p.legend) {
    const lg = g.append("g");
    const entries = [
      {si: 0, lx0: c.x0 + 54, lx1: c.x0 + 106, tx: c.x0 + 111, ly: r.y0 + 128},
      {si: 1, lx0: c.x0 + 54, lx1: c.x0 + 106, tx: c.x0 + 111, ly: r.y0 + 144},
      {si: 2, lx0: c.x0 + 172, lx1: c.x0 + 213, tx: c.x0 + 229, ly: r.y0 + 128},
      {si: 3, lx0: c.x0 + 172, lx1: c.x0 + 213, tx: c.x0 + 229, ly: r.y0 + 144}
    ];
    entries.forEach(e => {
      lg.append("line").attr("x1", e.lx0).attr("x2", e.lx1).attr("y1", e.ly).attr("y2", e.ly)
        .attr("stroke", lineColors[e.si]).attr("stroke-width", 3.2)
        .attr("stroke-dasharray", dashedSeries[e.si] ? "14,13" : null);
      lg.append("text").attr("x", e.tx).attr("y", e.ly).attr("dy", "0.36em")
        .attr("font-size", 14).attr("fill", textColor).text(seriesNames[e.si]);
    });
  }
});
</script>
</body></html>
